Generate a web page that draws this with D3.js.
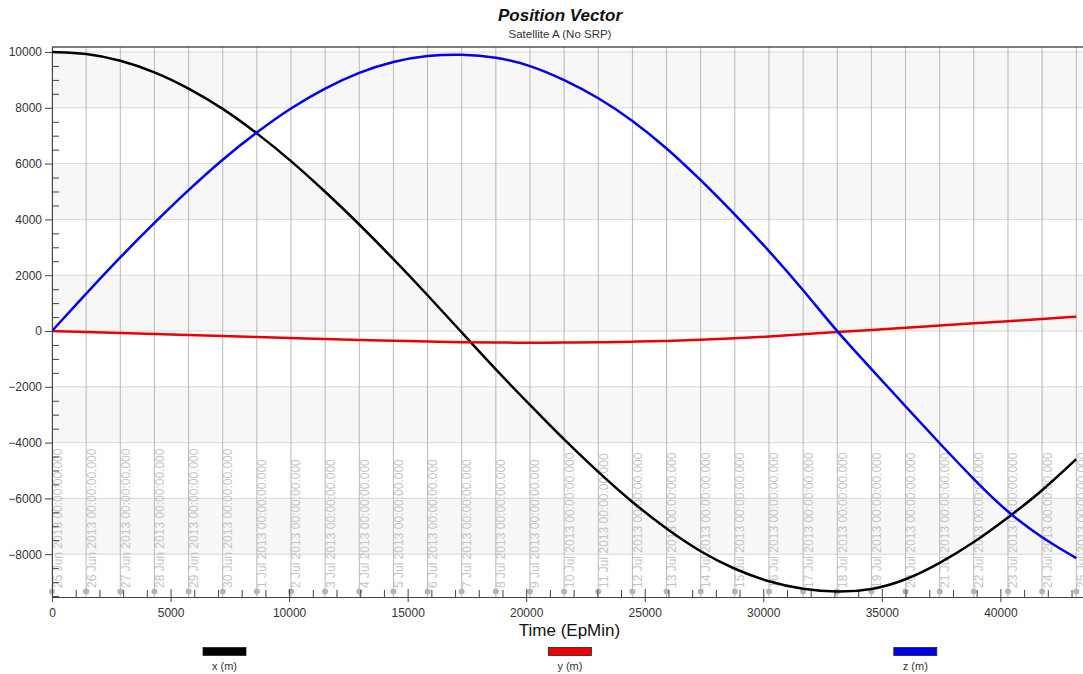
<!DOCTYPE html>
<html>
<head>
<meta charset="utf-8">
<script src="https://cdn.jsdelivr.net/npm/d3@7"></script>
<style>
  body { margin: 0; background: #fff; }
  text { font-family: "Liberation Sans", Arial, sans-serif; }
</style>
</head>
<body>
<svg id="chart"></svg>
<script>
// Размеры страницы и области графика
const width = 1083;
const height = 674;
const plotLeft = 52, plotRight = 1081, plotTop = 47, plotBottom = 597;

// Данные: время (мин от эпохи) и компоненты вектора положения (м)
const times = [0, 1440, 2880, 4320, 5760, 7200, 8640, 10080, 11520, 12960, 14400,
  15840, 17280, 18720, 20160, 21600, 23040, 24480, 25920, 27360, 28800,
  30240, 31680, 33120, 34560, 36000, 37440, 38880, 40320, 41760, 43200];

const xPos = [10000, 9960, 9710, 9300, 8710, 7990, 7100, 6110, 5000, 3830, 2580,
  1290, -50, -1390, -2650, -3900, -5060, -6150, -7100, -7930, -8550,
  -9000, -9270, -9370, -9290, -8940, -8330, -7590, -6690, -5740, -4590];

const yPos = [0, -36, -72, -108, -143, -179, -215, -251, -287, -320, -350,
  -380, -402, -415, -420, -416, -404, -384, -356, -318, -265,
  -200, -120, -36, 38, 112, 195, 275, 350, 430, 515];

const zPos = [0, 1340, 2650, 3880, 5060, 6160, 7130, 8000, 8710, 9280, 9670,
  9880, 9925, 9830, 9530, 9010, 8370, 7560, 6570, 5420, 4180,
  2880, 1480, -40, -1360, -2700, -4030, -5320, -6520, -7420, -8140];

const dateLabels = ['25 Jun 2013 00:00:00.000', '26 Jun 2013 00:00:00.000', '27 Jun 2013 00:00:00.000',
  '28 Jun 2013 00:00:00.000', '29 Jun 2013 00:00:00.000', '30 Jun 2013 00:00:00.000',
  '1 Jul 2013 00:00:00.000', '2 Jul 2013 00:00:00.000', '3 Jul 2013 00:00:00.000',
  '4 Jul 2013 00:00:00.000', '5 Jul 2013 00:00:00.000', '6 Jul 2013 00:00:00.000',
  '7 Jul 2013 00:00:00.000', '8 Jul 2013 00:00:00.000', '9 Jul 2013 00:00:00.000',
  '10 Jul 2013 00:00:00.000', '11 Jul 2013 00:00:00.000', '12 Jul 2013 00:00:00.000',
  '13 Jul 2013 00:00:00.000', '14 Jul 2013 00:00:00.000', '15 Jul 2013 00:00:00.000',
  '16 Jul 2013 00:00:00.000', '17 Jul 2013 00:00:00.000', '18 Jul 2013 00:00:00.000',
  '19 Jul 2013 00:00:00.000', '20 Jul 2013 00:00:00.000', '21 Jul 2013 00:00:00.000',
  '22 Jul 2013 00:00:00.000', '23 Jul 2013 00:00:00.000', '24 Jul 2013 00:00:00.000',
  '25 Jul 2013 00:00:00.000'];

const seriesNames = ['x (m)', 'y (m)', 'z (m)'];
const seriesColors = ['#000000', '#ee0000', '#0000ee'];

const xTicks = [0, 5000, 10000, 15000, 20000, 25000, 30000, 35000, 40000];
const yTicks = [-8000, -6000, -4000, -2000, 0, 2000, 4000, 6000, 8000, 10000];

const svg = d3.select('#chart').attr('width', width).attr('height', height);

// Шкалы
const x = d3.scaleLinear().domain([0, 43400]).range([plotLeft, plotRight]);
const y = d3.scaleLinear().domain([-9534, 10179]).range([plotBottom, plotTop]);

// Полосы фона
const bands = [];
for (let i = 0; i < yTicks.length - 1; i += 2) bands.push([yTicks[i], yTicks[i + 1]]);
svg.append('g').selectAll('rect').data(bands).join('rect')
  .attr('x', plotLeft).attr('width', width - plotLeft)
  .attr('y', d => y(d[1])).attr('height', d => y(d[0]) - y(d[1]))
  .attr('fill', '#f7f7f7');

// Горизонтальная сетка
svg.append('g').selectAll('line').data(yTicks).join('line')
  .attr('x1', plotLeft).attr('x2', width)
  .attr('y1', d => y(d)).attr('y2', d => y(d))
  .attr('stroke', '#d8d8d8');

// Вертикальная сетка по дням
svg.append('g').selectAll('line').data(times).join('line')
  .attr('x1', d => x(d)).attr('x2', d => x(d))
  .attr('y1', plotTop).attr('y2', plotBottom)
  .attr('stroke', '#b8b8b8');

// Подписи дат
svg.append('g').selectAll('text').data(times).join('text')
  .attr('transform', d => `translate(${x(d) + 9.5},588) rotate(-90)`)
  .attr('font-size', 12)
  .attr('fill', '#c4c4c4')
  .text((d, i) => dateLabels[i]);

// Точки дат
svg.append('g').selectAll('circle').data(times).join('circle')
  .attr('cx', d => x(d)).attr('cy', 591.5).attr('r', 3)
  .attr('fill', '#b5b5b5');

// Оси
const fmt = d3.format('d');
svg.append('g').attr('transform', `translate(${plotLeft},0)`)
  .call(d3.axisLeft(y).tickValues(yTicks).tickFormat(fmt).tickSize(7).tickSizeOuter(0).tickPadding(3));
const yMinor = d3.range(-9500, 10000, 500).filter(v => v % 2000 !== 0);
svg.append('g').attr('transform', `translate(${plotLeft},0)`)
  .call(d3.axisRight(y).tickValues(yMinor).tickSize(7).tickFormat(''))
  .select('.domain').remove();

const xAxis = svg.append('g').attr('transform', `translate(0,${plotBottom})`)
  .call(d3.axisBottom(x).tickValues(xTicks).tickFormat(fmt).tickSize(5).tickSizeOuter(0).tickPadding(6.5));
svg.append('g').attr('transform', `translate(0,${plotBottom})`)
  .call(d3.axisTop(x).tickValues(xTicks).tickSize(8).tickFormat(''))
  .select('.domain').remove();
const xMinor = d3.range(1000, 43400, 1000).filter(v => v % 5000 !== 0);
svg.append('g').attr('transform', `translate(0,${plotBottom})`)
  .call(d3.axisTop(x).tickValues(xMinor).tickSize(7).tickFormat(''))
  .select('.domain').remove();

svg.selectAll('.tick text').attr('font-size', 12).attr('fill', '#333')
  .attr('font-family', '"Liberation Sans", Arial, sans-serif');
svg.selectAll('.tick line, .domain').attr('stroke', '#444');
xAxis.select('.domain').attr('d', `M${plotLeft},0.5H${width}`);

// Верхняя рамка
svg.append('line').attr('x1', plotLeft).attr('x2', width).attr('y1', plotTop).attr('y2', plotTop)
  .attr('stroke', '#000');

// Линии рядов
svg.append('clipPath').attr('id', 'clip').append('rect')
  .attr('x', plotLeft).attr('y', plotTop).attr('width', plotRight - plotLeft + 2).attr('height', plotBottom - plotTop);
const line = d3.line().x(d => x(d[0])).y(d => y(d[1])).curve(d3.curveBasis);
[xPos, yPos, zPos].forEach((vals, i) => {
  svg.append('path')
    .datum(times.map((t, j) => [t, vals[j]]))
    .attr('clip-path', 'url(#clip)')
    .attr('fill', 'none')
    .attr('stroke', seriesColors[i])
    .attr('stroke-width', 2.5)
    .attr('d', line);
});

// Заголовки
svg.append('text').attr('x', 560).attr('y', 21).attr('text-anchor', 'middle')
  .attr('font-size', 17).attr('font-weight', 'bold').attr('font-style', 'italic')
  .attr('fill', '#111').text('Position Vector');
svg.append('text').attr('x', 560).attr('y', 38).attr('text-anchor', 'middle')
  .attr('font-size', 11.5).attr('fill', '#333').text('Satellite A (No SRP)');
svg.append('text').attr('x', 569.5).attr('y', 636).attr('text-anchor', 'middle')
  .attr('font-size', 17).attr('fill', '#111').text('Time (EpMin)');

// Легенда
const legend = svg.append('g').selectAll('g').data(seriesNames).join('g')
  .attr('transform', (d, i) => `translate(${224.5 + i * 345.4},0)`);
legend.append('rect').attr('x', -21.5).attr('y', 647.5).attr('width', 43).attr('height', 8)
  .attr('fill', (d, i) => seriesColors[i]).attr('stroke', '#222').attr('stroke-width', 0.8);
legend.append('text').attr('y', 670).attr('text-anchor', 'middle')
  .attr('font-size', 11).attr('fill', '#333').text(d => d);
</script>
</body>
</html>
